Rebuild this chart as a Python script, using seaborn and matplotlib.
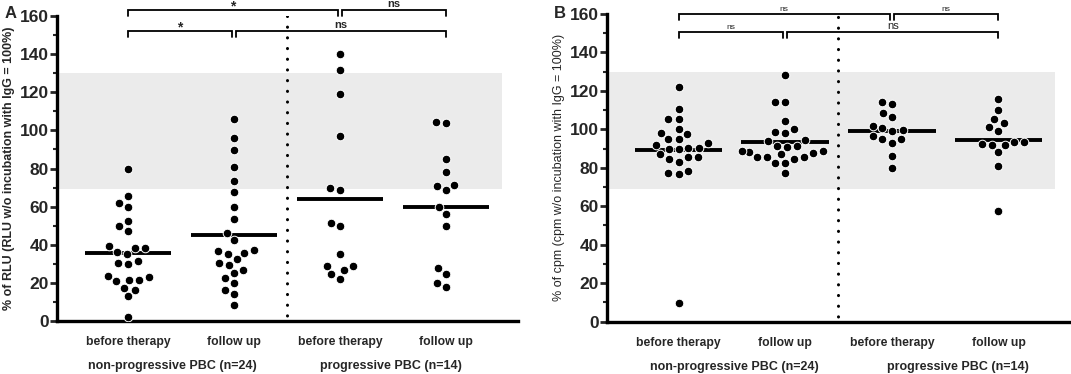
import matplotlib
matplotlib.use("Agg")
import matplotlib.pyplot as plt
import matplotlib.transforms as mtransforms
import seaborn as sns
import numpy as np
import pandas as pd

# grupos (ordem no eixo x)
grupos = ["np_antes", "np_seguimento", "p_antes", "p_seguimento"]
rotulos_x = ["before therapy", "follow up", "before therapy", "follow up"]
rotulos_grupo = ["non-progressive PBC (n=24)", "progressive PBC (n=14)"]

# painel A: % of RLU
a_np_antes = [79.5, 65.4, 59.8, 62.0, 52.4, 49.6, 47.0, 39.3, 38.5, 38.1, 35.0, 36.2,
              30.0, 30.6, 31.5, 20.8, 21.7, 21.7, 23.0, 23.8, 17.5, 16.4, 13.0, 2.0]
a_np_seguimento = [106.0, 96.0, 89.5, 80.8, 73.3, 67.7, 59.8, 53.7, 46.2, 42.7, 37.4, 36.7,
                   32.7, 35.3, 35.8, 29.5, 30.4, 25.2, 26.9, 19.9, 22.4, 14.3, 16.1, 8.2]
a_p_antes = [140.2, 131.8, 119.2, 97.0, 68.5, 69.8, 49.7, 51.6, 35.3, 29.0, 26.9, 28.7, 22.2, 24.5]
a_p_seguimento = [104.0, 104.4, 85.1, 78.1, 71.5, 71.0, 68.5, 59.8, 56.3, 50.0, 27.8, 24.5, 19.9, 17.8]

# painel B: % of cpm
b_np_antes = [122.2, 110.6, 105.4, 105.4, 97.6, 98.3, 100.0, 95.0, 95.0, 92.7, 91.7, 89.8,
              89.8, 90.5, 90.5, 87.2, 83.2, 85.4, 84.6, 85.4, 76.6, 78.5, 77.1, 9.9]
b_np_seguimento = [128.3, 114.1, 114.1, 104.4, 100.2, 98.3, 98.8, 94.0, 94.5, 91.4, 91.0, 91.4,
                   87.0, 88.4, 88.9, 87.5, 88.9, 85.5, 85.5, 85.5, 82.4, 84.4, 82.4, 77.2]
b_p_antes = [113.0, 114.0, 106.2, 108.3, 101.9, 99.1, 96.5, 99.7, 100.5, 93.0, 94.8, 94.8, 86.3, 79.7]
b_p_seguimento = [115.8, 110.0, 103.5, 105.2, 99.3, 101.0, 91.9, 93.3, 92.4, 93.3, 91.9, 88.0, 81.1, 57.5]

# faixa de referência (cinzenta)
faixa_ref = (69, 130)

# comparações: (x1, x2, y, texto, tamanho)
comparacoes_a = [(0, 0.98, 152, "*", 10), (1.02, 3.0, 152, "ns", 8),
                 (0, 1.98, 163, "*", 10), (2.02, 3.0, 163, "ns", 8)]
comparacoes_b = [(0, 0.98, 150.5, "ns", 6), (1.02, 3.0, 150.5, "ns", 8),
                 (0, 1.98, 160, "ns", 6), (2.02, 3.0, 160, "ns", 6)]

sns.set_theme(style="ticks")
plt.rcParams["font.family"] = ["Liberation Sans", "DejaVu Sans"]

fig = plt.figure(figsize=(10.71, 3.74), dpi=100)
ax_a = fig.add_axes([0.0532, 0.1417, 0.4305, 0.8155])
ax_b = fig.add_axes([0.5668, 0.140, 0.4332, 0.8226])


def desenhar_painel(ax, valores, ylabel, peso_ylabel, peso_comp, comparacoes, pos_grupo):
    df = pd.DataFrame({
        "grupo": np.repeat(grupos, [len(v) for v in valores]),
        "valor": np.concatenate(valores),
    })
    ax.axhspan(*faixa_ref, xmin=0, xmax=0.965, color="#ebebeb", lw=0, zorder=0)

    # linha da média
    sns.boxplot(data=df, x="grupo", y="valor", order=grupos, width=0.82, ax=ax,
                showmeans=True, meanline=True, showbox=False, showcaps=False,
                showfliers=False, whiskerprops={"visible": False},
                medianprops={"visible": False},
                meanprops={"color": "black", "linewidth": 2.8, "linestyle": "-"})
    sns.swarmplot(data=df, x="grupo", y="valor", order=grupos, ax=ax, color="black",
                  size=6.2, edgecolor="white", linewidth=0.7, zorder=3)

    ax.axvline(1.5, color="black", lw=2.2, ls=(1.7, (0.05, 3.45)),
               dash_capstyle="round", zorder=1)

    ax.set_xlim(-0.67, 3.68)
    ax.set_ylim(0, 160)
    ax.set_yticks(np.arange(0, 161, 20))
    ax.set_yticks(np.arange(10, 160, 20), minor=True)
    ax.tick_params(axis="y", which="major", length=5, width=2, labelsize=12.5, pad=1)
    ax.tick_params(axis="y", which="minor", length=3, width=1.5)
    for lbl in ax.get_yticklabels():
        lbl.set_fontweight("bold")
    ax.set_xticks(range(4))
    ax.set_xticklabels(rotulos_x, fontsize=8.7, fontweight="bold")
    ax.tick_params(axis="x", length=0, pad=11)
    ax.set_xlabel("")
    ax.set_ylabel(ylabel, fontsize=9, fontweight=peso_ylabel, labelpad=3)
    for s in ["top", "right"]:
        ax.spines[s].set_visible(False)
    for s in ["left", "bottom"]:
        ax.spines[s].set_linewidth(2.4)
        ax.spines[s].set_color("black")

    trans = mtransforms.blended_transform_factory(ax.transData, ax.transAxes)
    for x, txt in zip(pos_grupo, rotulos_grupo):
        ax.text(x, -0.148, txt, transform=trans, ha="center", va="center",
                fontsize=9, fontweight="bold")

    for x1, x2, y, txt, tam in comparacoes:
        ax.plot([x1, x1, x2, x2], [y - 3, y, y, y - 3], color="black", lw=1.3,
                clip_on=False, solid_joinstyle="miter")
        # o asterisco fica alto na linha, por isso desce um pouco
        y_txt = y - 0.3 if txt == "*" else y + 1.5
        ax.text((x1 + x2) / 2, y_txt, txt, ha="center", va="baseline",
                clip_on=False, fontsize=tam, fontweight=peso_comp)


desenhar_painel(ax_a, [a_np_antes, a_np_seguimento, a_p_antes, a_p_seguimento],
                "% of RLU (RLU w/o incubation with IgG = 100%)", "bold", "bold",
                comparacoes_a, [0.42, 2.48])
desenhar_painel(ax_b, [b_np_antes, b_np_seguimento, b_p_antes, b_p_seguimento],
                "% of cpm (cpm w/o incubation with IgG = 100%)", "normal", "normal",
                comparacoes_b, [0.52, 2.62])

fig.text(0.004, 0.985, "A", fontsize=12, fontweight="bold", ha="left", va="top")
fig.text(0.517, 0.985, "B", fontsize=12, fontweight="bold", ha="left", va="top")

fig.savefig("out.png", dpi=100)
